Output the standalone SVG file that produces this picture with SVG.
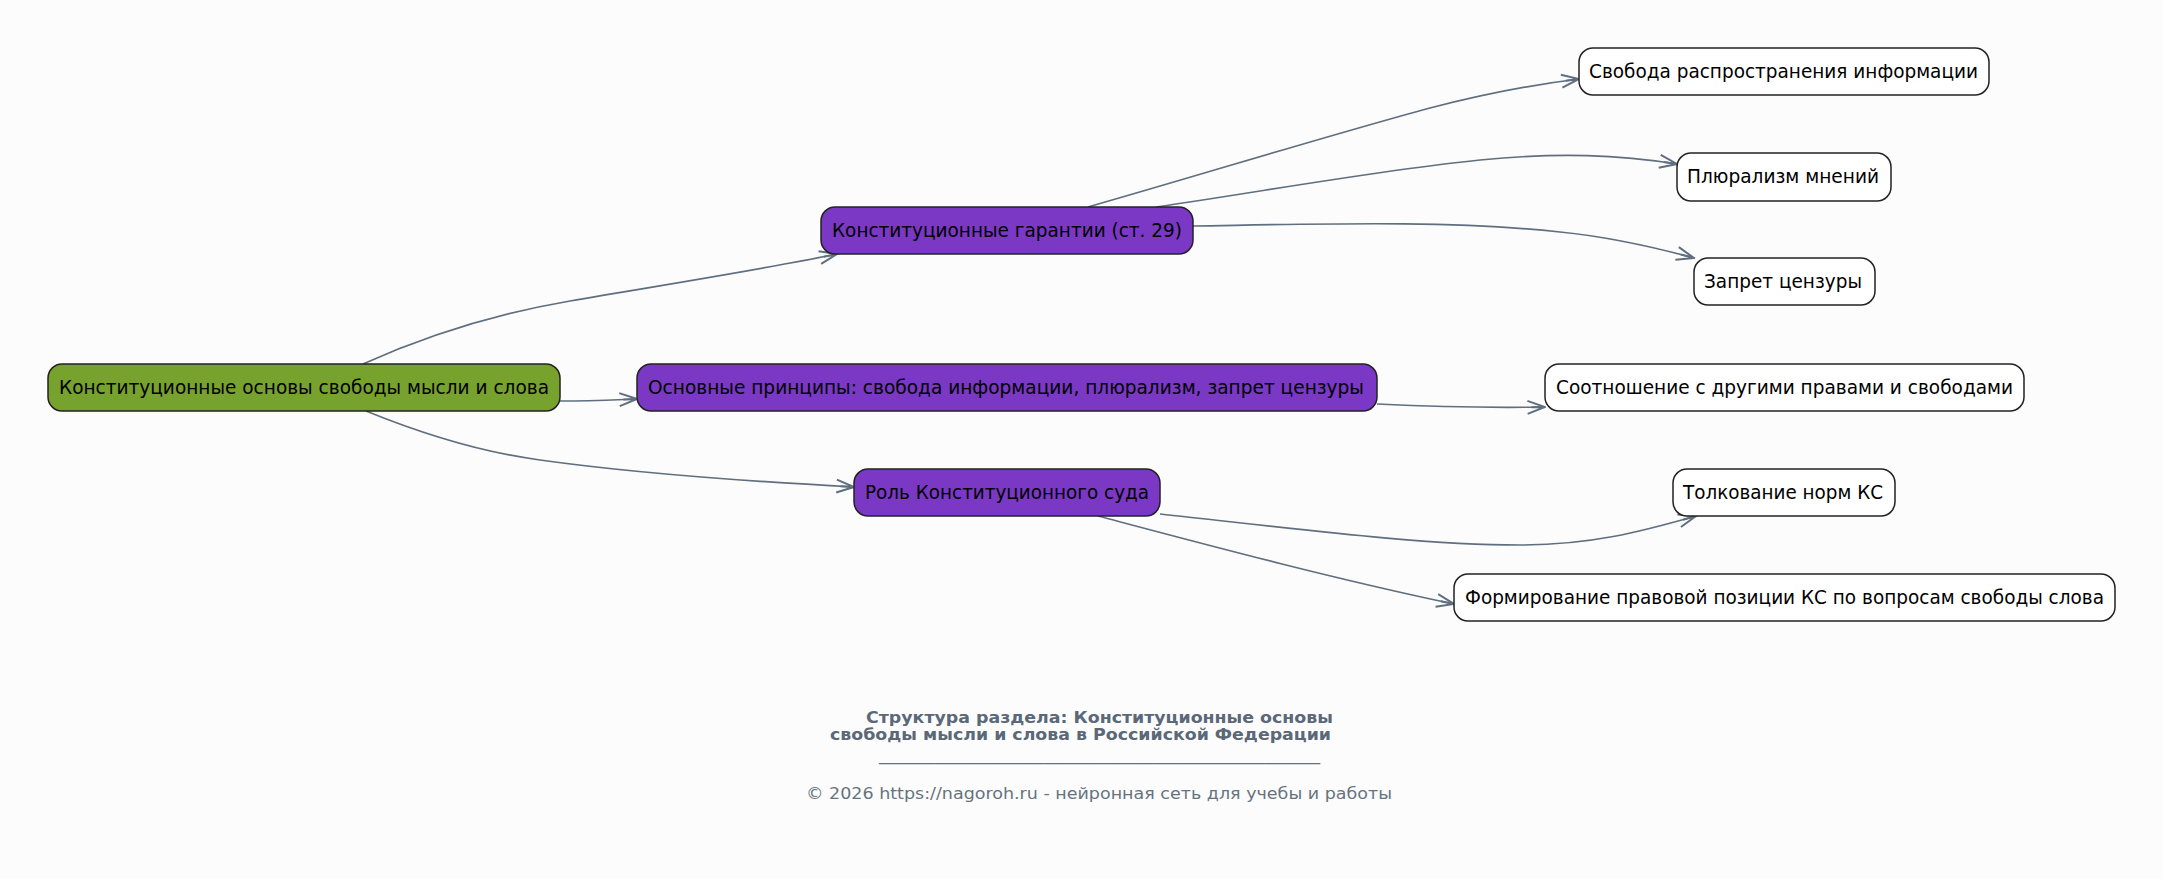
<svg xmlns="http://www.w3.org/2000/svg" width="2163" height="879" viewBox="0 0 2163 879">
<defs>
<marker id="vee" viewBox="0 0 20 16" refX="18.5" refY="8" markerWidth="20" markerHeight="16" markerUnits="userSpaceOnUse" orient="auto">
<path d="M1,1.5 L18.5,8 L1,14.5 M5,8 L18.5,8" fill="none" stroke="#5f6f7f" stroke-width="2" stroke-linejoin="miter"/>
</marker>
<style>
.e{fill:none;stroke:#5f6f7f;stroke-width:1.7;marker-end:url(#vee)}
.n{stroke:#222;stroke-width:1.5}
.g{fill:#77a22d}
.p{fill:#7a38c5}
.w{fill:#ffffff}
.t{font-family:"DejaVu Sans",sans-serif;font-size:19px;fill:#000}
.h{font-family:"DejaVu Sans",sans-serif;font-size:16px;font-weight:bold;fill:#5a6878}
.f{font-family:"DejaVu Sans",sans-serif;font-size:16.5px;fill:#66737f}
</style>
</defs>
<rect width="2163" height="879" fill="#fcfcfc"/>
<g id="connectors">
<path class="e" d="M363,364 C430,334 500,313 570,301 C650,287 760,270 837,254"/>
<path class="e" d="M560,401 C590,401 610,400 637,399"/>
<path class="e" d="M366,411 C420,433 480,452 540,460 C640,474 760,482 854,487"/>
<path class="e" d="M1088,207 C1200,175 1330,135 1430,108 C1480,95 1530,85 1579,79"/>
<path class="e" d="M1156,207 C1260,192 1380,170 1480,160 C1560,152 1620,155 1677,164"/>
<path class="e" d="M1193,226 C1320,224 1450,220 1560,232 C1610,237 1650,246 1694,258"/>
<path class="e" d="M1377,404 C1440,407 1490,408 1545,407"/>
<path class="e" d="M1160,514 C1290,528 1420,545 1520,545 C1590,545 1640,532 1696,516"/>
<path class="e" d="M1098,516 C1200,543 1330,578 1454,604"/>
</g>
<g id="root">
<rect class="n g" x="48" y="364" width="512" height="47" rx="14"/>
<text class="t" x="59" y="394" textLength="490" lengthAdjust="spacingAndGlyphs">Конституционные основы свободы мысли и слова</text>
</g>
<g id="guarantees">
<rect class="n p" x="821" y="207" width="372" height="47" rx="14"/>
<text class="t" x="832" y="237" textLength="350" lengthAdjust="spacingAndGlyphs">Конституционные гарантии (ст. 29)</text>
</g>
<g id="principles">
<rect class="n p" x="637" y="364" width="740" height="47" rx="14"/>
<text class="t" x="648" y="394" textLength="716" lengthAdjust="spacingAndGlyphs">Основные принципы: свобода информации, плюрализм, запрет цензуры</text>
</g>
<g id="court">
<rect class="n p" x="854" y="469" width="306" height="47" rx="14"/>
<text class="t" x="865" y="499" textLength="284" lengthAdjust="spacingAndGlyphs">Роль Конституционного суда</text>
</g>
<g id="dissemination">
<rect class="n w" x="1579" y="48" width="410" height="47" rx="14"/>
<text class="t" x="1589" y="78" textLength="389" lengthAdjust="spacingAndGlyphs">Свобода распространения информации</text>
</g>
<g id="pluralism">
<rect class="n w" x="1677" y="153" width="214" height="48" rx="14"/>
<text class="t" x="1687" y="183" textLength="192" lengthAdjust="spacingAndGlyphs">Плюрализм мнений</text>
</g>
<g id="censorship">
<rect class="n w" x="1694" y="258" width="181" height="47" rx="14"/>
<text class="t" x="1704" y="288" textLength="158" lengthAdjust="spacingAndGlyphs">Запрет цензуры</text>
</g>
<g id="relation">
<rect class="n w" x="1545" y="364" width="479" height="47" rx="14"/>
<text class="t" x="1556" y="394" textLength="457" lengthAdjust="spacingAndGlyphs">Соотношение с другими правами и свободами</text>
</g>
<g id="interpretation">
<rect class="n w" x="1673" y="469" width="222" height="47" rx="14"/>
<text class="t" x="1683" y="499" textLength="200" lengthAdjust="spacingAndGlyphs">Толкование норм КС</text>
</g>
<g id="position">
<rect class="n w" x="1454" y="574" width="661" height="47" rx="14"/>
<text class="t" x="1465" y="604" textLength="639" lengthAdjust="spacingAndGlyphs">Формирование правовой позиции КС по вопросам свободы слова</text>
</g>
<g id="footer">
<text class="h" x="866" y="723" textLength="467" lengthAdjust="spacingAndGlyphs">Структура раздела: Конституционные основы</text>
<text class="h" x="830" y="740" textLength="501" lengthAdjust="spacingAndGlyphs">свободы мысли и слова в Российской Федерации</text>
<text class="f" x="879" y="760" textLength="441" lengthAdjust="spacingAndGlyphs">________________________________________</text>
<text class="f" x="806" y="799" textLength="586" lengthAdjust="spacingAndGlyphs">© 2026 https://nagoroh.ru - нейронная сеть для учебы и работы</text>
</g>
</svg>
